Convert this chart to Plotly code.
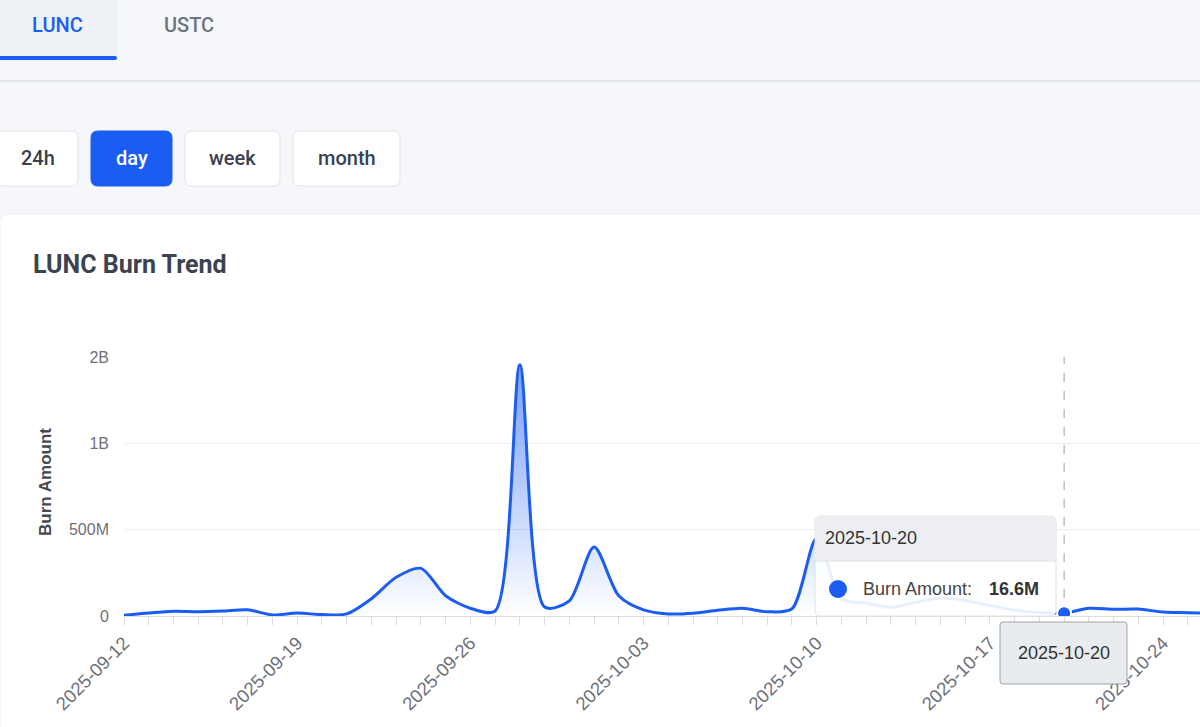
import plotly.graph_objects as go
import pandas as pd

W, H = 1200, 727
BLUE = "#1b5cf2"
CHART_FONT = "Liberation Sans, Arial, sans-serif"
UI_FONT = "Roboto, Arial, sans-serif"

# ---------------- data ----------------
dates = [
    "2025-09-12", "2025-09-13", "2025-09-14", "2025-09-15", "2025-09-16",
    "2025-09-17", "2025-09-18", "2025-09-19", "2025-09-20", "2025-09-21",
    "2025-09-22", "2025-09-23", "2025-09-24", "2025-09-25", "2025-09-26",
    "2025-09-27", "2025-09-28", "2025-09-29", "2025-09-30", "2025-10-01",
    "2025-10-02", "2025-10-03", "2025-10-04", "2025-10-05", "2025-10-06",
    "2025-10-07", "2025-10-08", "2025-10-09", "2025-10-10", "2025-10-11",
    "2025-10-12", "2025-10-13", "2025-10-14", "2025-10-15", "2025-10-16",
    "2025-10-17", "2025-10-18", "2025-10-19", "2025-10-20", "2025-10-21",
    "2025-10-22", "2025-10-23", "2025-10-24", "2025-10-25", "2025-10-26",
]
burn_amount = [
    4e6, 17e6, 27e6, 25e6, 29e6, 36e6, 6e6, 17e6, 8e6, 12e6,
    100e6, 224e6, 276e6, 117e6, 45e6, 29e6, 1455e6, 52e6, 88e6, 399e6,
    117e6, 35e6, 12e6, 16e6, 33e6, 45e6, 25e6, 42e6, 450e6, 100e6,
    75e6, 50e6, 80e6, 104e6, 90e6, 60e6, 35e6, 20e6, 16.6e6, 45e6,
    39e6, 40e6, 23e6, 19e6, 15e6,
]
y_tickvals = [0, 5e8, 1e9, 1.5e9]
y_ticktext = ["0", "500M", "1B", "2B"]
x_tickvals = ["2025-09-12", "2025-09-19", "2025-09-26", "2025-10-03",
              "2025-10-10", "2025-10-17", "2025-10-24"]
tabs = ["LUNC", "USTC"]
periods = ["24h", "day", "week", "month"]
HOVER_IDX = 38
series_name = "Burn Amount"
title = "LUNC Burn Trend"


# ---------------- helpers (pixel -> paper) ----------------
def px(x):
    return x / W


def py(y):
    return 1 - y / H


def rrect(x0, y0, x1, y1, r, top_only=False):
    rb = 0 if top_only else r
    return (
        f"M {px(x0 + r)},{py(y0)} L {px(x1 - r)},{py(y0)} "
        f"Q {px(x1)},{py(y0)} {px(x1)},{py(y0 + r)} "
        f"L {px(x1)},{py(y1 - rb)} Q {px(x1)},{py(y1)} {px(x1 - rb)},{py(y1)} "
        f"L {px(x0 + rb)},{py(y1)} Q {px(x0)},{py(y1)} {px(x0)},{py(y1 - rb)} "
        f"L {px(x0)},{py(y0 + r)} Q {px(x0)},{py(y0)} {px(x0 + r)},{py(y0)} Z"
    )


fig = go.Figure()

fig.add_trace(go.Scatter(
    x=dates, y=burn_amount, mode="lines", name=series_name,
    line=dict(color=BLUE, width=3, shape="spline", smoothing=0.8),
    fill="tozeroy",
    fillgradient=dict(type="vertical",
                      colorscale=[[0, "rgba(27,92,242,0.0)"], [1, "rgba(27,92,242,0.6)"]]),
    hoverinfo="skip", showlegend=False,
))
fig.add_trace(go.Scatter(
    x=[dates[HOVER_IDX]], y=[burn_amount[HOVER_IDX]], mode="markers",
    marker=dict(size=14, color=BLUE, line=dict(color="white", width=2)),
    hoverinfo="skip", showlegend=False,
))

shapes = []
# card
shapes.append(dict(type="path", xref="paper", yref="paper", layer="below",
                   path=rrect(0, 214, 1230, 760, 10),
                   fillcolor="white", line=dict(color="#eef0f4", width=1)))
# tab background + underline + divider
shapes.append(dict(type="rect", xref="paper", yref="paper", layer="below",
                   x0=px(0), x1=px(117), y0=py(60), y1=py(0),
                   fillcolor="#eef1f6", line=dict(width=0)))
shapes.append(dict(type="line", xref="paper", yref="paper", layer="below",
                   x0=0, x1=1, y0=py(81), y1=py(81),
                   line=dict(color="#e1e5ea", width=2)))
shapes.append(dict(type="path", xref="paper", yref="paper", layer="below",
                   path=rrect(-6, 56, 117, 60, 2),
                   fillcolor=BLUE, line=dict(width=0)))
# period buttons
btn_boxes = [(-4, 78), (91, 172), (185, 280), (293, 400)]
for i, (x0, x1) in enumerate(btn_boxes):
    active = periods[i] == "day"
    shapes.append(dict(type="path", xref="paper", yref="paper", layer="below",
                       path=rrect(x0, 131, x1, 186, 7),
                       fillcolor=BLUE if active else "white",
                       line=dict(color=BLUE if active else "#e1e4e9", width=1)))

# axis pointer (dashed line)
shapes.append(dict(type="line", xref="x", yref="paper", layer="below",
                   x0=dates[HOVER_IDX], x1=dates[HOVER_IDX], y0=py(616), y1=py(357),
                   line=dict(color="#a0a0a0", width=1, dash="dash")))

# tooltip
shapes.append(dict(type="path", xref="paper", yref="paper", layer="above",
                   path=rrect(815, 516, 1056, 616, 6),
                   fillcolor="rgba(255,255,255,0.9)", line=dict(color="#dde0e5", width=1)))
shapes.append(dict(type="path", xref="paper", yref="paper", layer="above",
                   path=rrect(815.5, 516.5, 1055.5, 561, 6, top_only=True),
                   fillcolor="#eceef1", line=dict(width=0)))
shapes.append(dict(type="line", xref="paper", yref="paper", layer="above",
                   x0=px(815), x1=px(1056), y0=py(561), y1=py(561),
                   line=dict(color="#dde0e5", width=1)))
shapes.append(dict(type="circle", xref="paper", yref="paper", layer="above",
                   x0=px(829), x1=px(847), y0=py(598), y1=py(580),
                   fillcolor=BLUE, line=dict(width=0)))
# axis pointer label box
shapes.append(dict(type="path", xref="paper", yref="paper", layer="above",
                   path=rrect(1000, 622, 1127, 684, 3),
                   fillcolor="#e9ecef", line=dict(color="#9ea4ab", width=1)))

annotations = []


def ann(text, x, y, size, color, family, xanchor="center", weight="normal", angle=0):
    annotations.append(dict(text=text, x=px(x), y=py(y), xref="paper", yref="paper",
                            xanchor=xanchor, yanchor="middle", showarrow=False,
                            textangle=angle,
                            font=dict(size=size, color=color, family=family, weight=weight)))


ann(tabs[0], 57, 25, 20, BLUE, UI_FONT, weight=500)
ann(tabs[1], 189, 25, 20, "#6b7480", UI_FONT, weight=500)
for i, (x0, x1) in enumerate(btn_boxes):
    active = periods[i] == "day"
    cx = 37.5 if i == 0 else (x0 + x1) / 2
    ann(periods[i], cx, 158, 20, "white" if active else "#3a4150", UI_FONT, weight=500)
ann(title, 31, 264, 25, "#3c4350", UI_FONT, xanchor="left", weight="bold")
ann(series_name, 45, 482, 17, "#464a50", CHART_FONT, weight="bold", angle=-90)

ann(dates[HOVER_IDX], 823, 538, 18, "#333333", CHART_FONT, xanchor="left")
ann(series_name + ":", 861, 589, 18, "#444444", CHART_FONT, xanchor="left")
ann(f"{burn_amount[HOVER_IDX] / 1e6:.1f}M", 1041, 589, 18, "#333333", CHART_FONT,
    xanchor="right", weight="bold")
ann(dates[HOVER_IDX], 1063.5, 653, 18, "#333333", CHART_FONT)

x_end = pd.Timestamp(dates[0]) + pd.Timedelta(days=(1200 - 124) / 24.74)

fig.update_layout(
    width=W, height=H,
    margin=dict(l=0, r=0, t=0, b=0, autoexpand=False),
    paper_bgcolor="#f5f7fa",
    plot_bgcolor="rgba(0,0,0,0)",
    showlegend=False,
    shapes=shapes,
    annotations=annotations,
    xaxis=dict(
        domain=[px(124), 1.0],
        range=[dates[0], x_end.strftime("%Y-%m-%d %H:%M:%S")],
        type="date",
        tickmode="array", tickvals=x_tickvals, ticktext=x_tickvals,
        tickangle=-45,
        tickfont=dict(size=18.5, color="#6e7079", family=CHART_FONT),
        ticks="outside", ticklen=8, tickcolor="#dcdcdc", tickwidth=1,
        minor=dict(ticks="outside", ticklen=8, tickcolor="#dcdcdc",
                   dtick=86400000, tick0=dates[0], showgrid=False),
        showline=True, linecolor="#dcdcdc", linewidth=1,
        showgrid=False, zeroline=False, automargin=False,
        fixedrange=True,
    ),
    yaxis=dict(
        domain=[py(616), py(357)],
        range=[0, 1.5e9],
        tickmode="array", tickvals=y_tickvals, ticktext=y_ticktext,
        tickfont=dict(size=16, color="#6e7079", family=CHART_FONT),
        ticks="", ticklabelstandoff=14,
        showgrid=True, gridcolor="#eeeeee", gridwidth=1,
        zeroline=False, showline=False, automargin=False,
        fixedrange=True,
    ),
)

fig.write_html("out.html")
